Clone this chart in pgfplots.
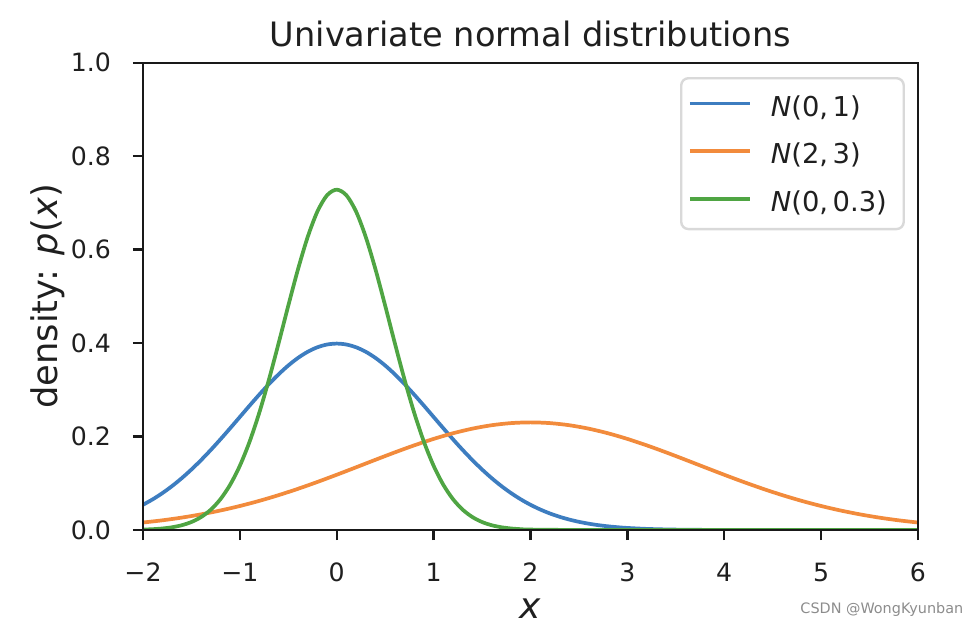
\documentclass[border=0pt]{standalone}
\usepackage{fontspec}
\setmainfont{DejaVu Sans}
\usepackage{pgfplots}
\pgfplotsset{compat=1.18}
\definecolor{c0}{HTML}{3D7DC0}
\definecolor{c1}{HTML}{F28B3C}
\definecolor{c2}{HTML}{4FA543}
\begin{document}
\begin{tikzpicture}
\useasboundingbox (-59.58pt,-40pt) rectangle (348.75pt,220.83pt);
\begin{axis}[
  scale only axis,
  width=322.9pt, height=194.7pt,
  xmin=-2, xmax=6, ymin=0, ymax=1,
  axis on top,
  axis line style={line width=1pt, black!90},
  tick style={line width=1pt, black!90},
  tick align=outside,
  major tick length=4.2pt,
  xtick pos=bottom, ytick pos=left,
  xtick={-2,-1,0,1,2,3,4,5,6},
  xticklabels={−2,−1,0,1,2,3,4,5,6},
  ytick={0,0.2,0.4,0.6,0.8,1.0},
  yticklabels={0.0,0.2,0.4,0.6,0.8,1.0},
  ticklabel style={font=\fontsize{10.5}{12}\selectfont, text=black!88},
  xticklabel style={anchor=base, inner sep=0pt, yshift=-17.4pt},
  yticklabel style={anchor=east, inner sep=0pt, xshift=-9.0pt},
  title={Univariate normal distributions},
  every axis title shift=0pt,
  title style={at={(axis description cs:0.5,1.0342)}, anchor=base, inner sep=0pt, font=\fontsize{14}{17}\selectfont, text=black!88},
  xlabel={\textit{x}},
  xlabel style={at={(axis description cs:0.5,-0.1900)}, anchor=base, inner sep=0pt, font=\fontsize{15}{18}\selectfont, text=black!88},
  ylabel={density: \textit{p}(\textit{x})},
  ylabel style={at={(axis description cs:-0.1097,0.5)}, anchor=base, rotate=0, inner sep=0pt, font=\fontsize{14.7}{17}\selectfont, text=black!88},
  legend cell align=left,
  legend style={at={(0.9832,0.9694)}, anchor=north east, draw=black!15, line width=1pt, rounded corners=3pt, fill=white, text=black!88,
    inner xsep=2.8pt, inner ysep=5.3pt, row sep=7.45pt, font=\fontsize{11.4}{13.7}\selectfont,
    nodes={inner sep=0pt, text height=10.5pt, text depth=1.95pt}},
  legend image code/.code={\draw[#1] (0pt,1pt) -- (25pt,1pt); \path[draw=none,fill=none] (0pt,1pt) -- (33.8pt,1pt);},
  every axis plot/.append style={line width=1.55pt, smooth},
]
\addplot[c0] coordinates {
(-2.0,0.05399) (-1.9,0.06562) (-1.8,0.07895) (-1.7,0.09405) (-1.6,0.11092) (-1.5,0.12952)
(-1.4,0.14973) (-1.3,0.17137) (-1.2,0.19419) (-1.1,0.21785) (-1.0,0.24197) (-0.9,0.26609)
(-0.8,0.28969) (-0.7,0.31225) (-0.6,0.33322) (-0.5,0.35207) (-0.4,0.36827) (-0.3,0.38139)
(-0.2,0.39104) (-0.1,0.39695) (0.0,0.39894) (0.1,0.39695) (0.2,0.39104) (0.3,0.38139)
(0.4,0.36827) (0.5,0.35207) (0.6,0.33322) (0.7,0.31225) (0.8,0.28969) (0.9,0.26609)
(1.0,0.24197) (1.1,0.21785) (1.2,0.19419) (1.3,0.17137) (1.4,0.14973) (1.5,0.12952)
(1.6,0.11092) (1.7,0.09405) (1.8,0.07895) (1.9,0.06562) (2.0,0.05399) (2.1,0.04398)
(2.2,0.03547) (2.3,0.02833) (2.4,0.02239) (2.5,0.01753) (2.6,0.01358) (2.7,0.01042)
(2.8,0.00792) (2.9,0.00595) (3.0,0.00443) (3.2,0.00238) (3.4,0.00123) (3.6,0.00061)
(3.8,0.00029) (4.0,0.00013) (4.5,0.00002) (5.0,0.0) (6.0,0.0)
};
\addlegendentry{\textit{N}(0,\,1)}
\addplot[c1] coordinates {
(-2.0,0.01600) (-1.8,0.02076) (-1.6,0.02656) (-1.4,0.03354) (-1.2,0.04180) (-1.0,0.05139)
(-0.8,0.06235) (-0.6,0.07465) (-0.4,0.08819) (-0.2,0.10281) (0.0,0.11826) (0.2,0.13422)
(0.4,0.15033) (0.6,0.16614) (0.8,0.18118) (1.0,0.19497) (1.2,0.20703) (1.4,0.21692)
(1.6,0.22427) (1.8,0.22880) (2.0,0.23033) (2.2,0.22880) (2.4,0.22427) (2.6,0.21692)
(2.8,0.20703) (3.0,0.19497) (3.2,0.18118) (3.4,0.16614) (3.6,0.15033) (3.8,0.13422)
(4.0,0.11826) (4.2,0.10281) (4.4,0.08819) (4.6,0.07465) (4.8,0.06235) (5.0,0.05139)
(5.2,0.04180) (5.4,0.03354) (5.6,0.02656) (5.8,0.02076) (6.0,0.01600)
};
\addlegendentry{\textit{N}(2,\,3)}
\addplot[c2] coordinates {
(-2.0,0.00093) (-1.9,0.00178) (-1.8,0.00329) (-1.7,0.00589) (-1.6,0.01022) (-1.5,0.01713)
(-1.4,0.02777) (-1.3,0.04356) (-1.2,0.06608) (-1.1,0.09695) (-1.0,0.13757) (-0.9,0.18882)
(-0.8,0.25067) (-0.7,0.32187) (-0.6,0.39974) (-0.5,0.48017) (-0.4,0.55788) (-0.3,0.62691)
(-0.2,0.68139) (-0.1,0.71633) (0.0,0.72837) (0.1,0.71633) (0.2,0.68139) (0.3,0.62691)
(0.4,0.55788) (0.5,0.48017) (0.6,0.39974) (0.7,0.32187) (0.8,0.25067) (0.9,0.18882)
(1.0,0.13757) (1.1,0.09695) (1.2,0.06608) (1.3,0.04356) (1.4,0.02777) (1.5,0.01713)
(1.6,0.01022) (1.7,0.00589) (1.8,0.00329) (1.9,0.00178) (2.0,0.00093) (2.5,0.00002)
(3.0,0.0) (6.0,0.0)
};
\addlegendentry{\textit{N}(0,\,0.3)\hspace*{4.2pt}}
\end{axis}
\node[anchor=base west, inner sep=0pt, text=black!45, font=\fontsize{6}{7}\selectfont] at (273.75pt,-34.7pt) {CSDN @WongKyunban};
\end{tikzpicture}
\end{document}
